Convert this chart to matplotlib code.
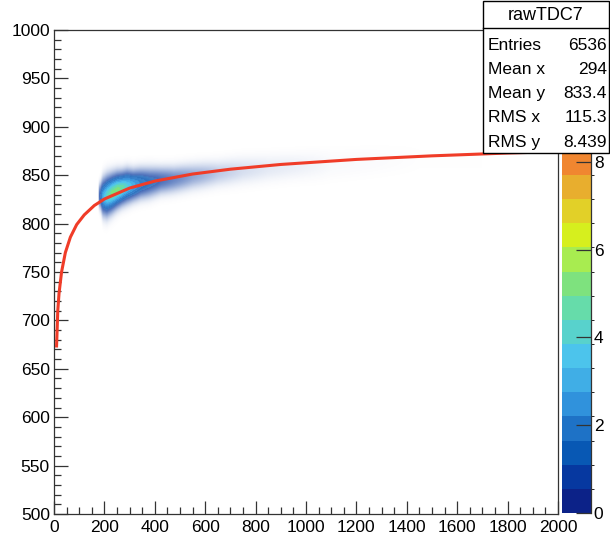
import numpy as np
import matplotlib
matplotlib.use("Agg")
import matplotlib.pyplot as plt
from matplotlib.colors import ListedColormap, BoundaryNorm
from matplotlib.patches import Rectangle
from matplotlib.lines import Line2D
from matplotlib.ticker import MultipleLocator

plt.rcParams['font.family'] = ['Liberation Sans', 'DejaVu Sans']

# ---------------- data ----------------
hist_name = "rawTDC7"
stat_labels = ["Entries", "Mean x", "Mean y", "RMS x", "RMS y"]
stat_values = ["6536", "294", "833.4", "115.3", "8.439"]

# x slices of the 2D histogram band: entries per slice, band centre and width in y
slice_lo = [178, 188, 200, 220, 240, 260, 280, 300, 330, 360, 400, 450, 500, 600, 700, 800, 900, 1000, 1200]
slice_hi = [188, 200, 220, 240, 260, 280, 300, 330, 360, 400, 450, 500, 600, 700, 800, 900, 1000, 1200, 1700]
slice_entries = [60, 300, 780, 880, 840, 730, 590, 640, 430, 400, 320, 220, 250, 110, 55, 30, 20, 10, 3]
slice_center = [828, 827, 828, 831, 834, 836, 838, 839, 841, 842, 844, 845, 848, 851, 854, 856, 858, 860, 866]
slice_sigma = [6.0, 8.5, 9.0, 8.5, 8.0, 7.5, 7.5, 7.0, 7.0, 7.0, 6.5, 6.5, 6.5, 6.5, 7.0, 7.0, 7.0, 8.0, 8.0]

# fitted curve, points
fit_x = [10, 15, 20, 30, 45, 65, 90, 120, 160, 200, 300, 400, 550, 700, 900, 1200, 1500, 1800, 2000]
fit_y = [672, 710, 728, 750, 770, 786, 799, 809, 818.7, 825.4, 836.7, 843.9, 851.2, 856.2, 861.1, 866.3, 870.0, 872.9, 874.4]

z_max = 11.0
n_contours = 20
palette = ['#0c2288', '#0638a0', '#0858b4', '#1e72c6', '#3092dc', '#40aee6', '#4cc4ec',
           '#58d2cc', '#66dcaa', '#7ee27e', '#a8ec50', '#d6ef1e', '#e2d028', '#e8ae2e',
           '#f08630', '#ee6a2e', '#e64a2a', '#d62e24', '#c01c1c', '#a01010']

# ---------------- figure ----------------
W, H = 610, 537
fig = plt.figure(figsize=(W / 100, H / 100), dpi=100)
ax = fig.add_axes([54 / W, 1 - 514 / H, (558 - 54) / W, (514 - 30) / H])
cax = fig.add_axes([562 / W, 1 - 513 / H, 29 / W, (513 - 30) / H])

cmap = ListedColormap(palette)
levels = np.linspace(0, z_max, n_contours + 1)
norm = BoundaryNorm(levels, cmap.N)

# bin contents of the 2D histogram
dx, dy = 2.5, 1.0
xc = np.arange(0, 2000, dx) + dx / 2
yc = np.arange(500, 1000, dy) + dy / 2
lo = np.array(slice_lo, float)
hi = np.array(slice_hi, float)
mids = (lo + hi) / 2
dens = np.array(slice_entries, float) / (hi - lo)
d_x = np.interp(xc, mids, dens)
d_x[(xc < lo[0]) | (xc > hi[-1])] = 0.0
c_x = np.interp(xc, mids, slice_center)
s_x = np.interp(xc, mids, slice_sigma)
lam = (d_x * dx)[None, :] * np.exp(-0.5 * ((yc[:, None] - c_x[None, :]) / s_x[None, :]) ** 2) \
      / (np.sqrt(2 * np.pi) * s_x[None, :]) * dy
rgba = cmap(norm(np.maximum(lam, 0.6)))
rgba[..., 3] = (1 - np.exp(-lam)) ** 0.7
ax.imshow(rgba, extent=[0, 2000, 500, 1000], origin='lower', aspect='auto',
          interpolation='antialiased', zorder=1)

ax.plot(fit_x, fit_y, color='#f03c28', lw=2.2, zorder=3, solid_capstyle='butt')

ax.set_xlim(0, 2000)
ax.set_ylim(500, 1000)
ax.xaxis.set_major_locator(MultipleLocator(200))
ax.xaxis.set_minor_locator(MultipleLocator(50))
ax.yaxis.set_major_locator(MultipleLocator(50))
ax.yaxis.set_minor_locator(MultipleLocator(10))
ax.tick_params(which='both', direction='in', top=False, right=False, labelsize=12.5,
               color='#333333', width=0.9)
ax.tick_params(axis='y', which='major', length=10, pad=3)
ax.tick_params(axis='y', which='minor', length=5)
ax.tick_params(axis='x', which='major', length=9.5, pad=4)
ax.tick_params(axis='x', which='minor', length=5)
for sp in ax.spines.values():
    sp.set_color('#333333')
    sp.set_linewidth(0.9)

# colour palette axis
sm = plt.cm.ScalarMappable(norm=norm, cmap=cmap)
cb = fig.colorbar(sm, cax=cax, boundaries=levels, ticks=[0, 2, 4, 6, 8])
cb.outline.set_visible(False)
cax.yaxis.set_ticks_position('right')
cax.tick_params(direction='in', length=10.5, width=0.9, labelsize=12.5, pad=2, color='#333333')
cax.add_line(Line2D([1, 1], [0, 1], transform=cax.transAxes, color='#333333', lw=0.9, clip_on=False))

# stats box
x0, x1, y0, y1 = 483, 609, 1, 153
box = Rectangle((x0 / W, 1 - y1 / H), (x1 - x0) / W, (y1 - y0) / H, transform=fig.transFigure,
                facecolor='white', edgecolor='black', lw=1.0, zorder=10)
fig.add_artist(box)
fig.add_artist(Line2D([x0 / W, x1 / W], [1 - 28 / H, 1 - 28 / H], transform=fig.transFigure,
                      color='black', lw=1.0, zorder=11))
fig.text((x0 + x1) / 2 / W, 1 - 15 / H, hist_name, ha='center', va='center', fontsize=13, zorder=12)
row_y = [45, 69.5, 93.5, 118, 142]
for lab, val, ry in zip(stat_labels, stat_values, row_y):
    fig.text(488 / W, 1 - ry / H, lab, ha='left', va='center', fontsize=12.5, zorder=12)
    fig.text(607 / W, 1 - ry / H, val, ha='right', va='center', fontsize=12.5, zorder=12)

fig.savefig("out.png", dpi=100)
